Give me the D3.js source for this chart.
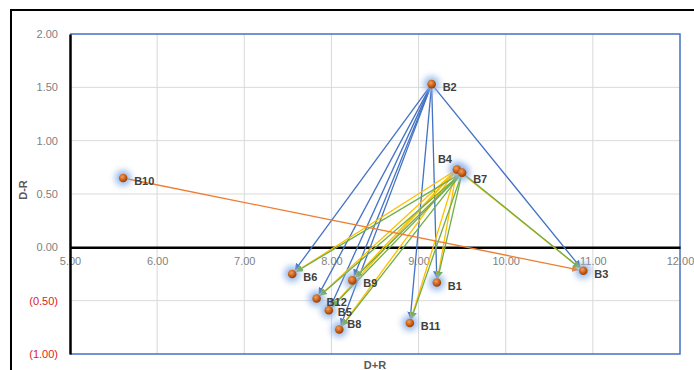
<!DOCTYPE html>
<html><head><meta charset="utf-8">
<script src="https://cdn.jsdelivr.net/npm/d3@7"></script>
<style>body{margin:0;background:#fff;} svg{display:block;}</style>
</head><body>
<svg id="c" width="694" height="370"></svg>
<script>
const names = ["B1","B2","B3","B4","B5","B6","B7","B8","B9","B10","B11","B12"];
const xVals = [9.21, 9.15, 10.89, 9.44, 7.97, 7.55, 9.50, 8.09, 8.24, 5.61, 8.90, 7.83];
const yVals = [-0.33, 1.53, -0.22, 0.73, -0.59, -0.25, 0.70, -0.77, -0.31, 0.65, -0.71, -0.48];
const xTicks = [5,6,7,8,9,10,11,12];
const yTicks = [-1,-0.5,0,0.5,1,1.5,2];
const sources = ["B2","B4","B7","B10"];
const sourceColors = ["#4472C4","#FFC000","#70AD47","#ED7D31"];
const targetsB2 = ["B6","B12","B5","B8","B9","B11","B1","B3"];
const targetsB4 = ["B6","B12","B5","B8","B9","B11","B1","B3"];
const targetsB7 = ["B6","B12","B5","B8","B9","B11","B1","B3"];
const targetsB10 = ["B3"];
const targetLists = [targetsB2, targetsB4, targetsB7, targetsB10];

const svg = d3.select("#c");
const x = d3.scaleLinear().domain([5,12]).range([70,680]);
const y = d3.scaleLinear().domain([-1,2]).range([354,34]);
const pts = {};
names.forEach((n,i)=>pts[n]={x:xVals[i],y:yVals[i]});
const FONT = "Liberation Sans, Arial, sans-serif";

// outer frame
svg.append("rect").attr("x",11).attr("y",10).attr("width",720).attr("height",400)
  .attr("fill","#fff").attr("stroke","#000").attr("stroke-width",2);

const defs = svg.append("defs");
const f = defs.append("filter").attr("id","glow").attr("x","-100%").attr("y","-100%").attr("width","300%").attr("height","300%");
f.append("feGaussianBlur").attr("stdDeviation",3);
const grad = defs.append("radialGradient").attr("id","dotg").attr("cx","40%").attr("cy","35%").attr("r","70%");
grad.append("stop").attr("offset","0%").attr("stop-color","#f0a060");
grad.append("stop").attr("offset","60%").attr("stop-color","#c55a11");
grad.append("stop").attr("offset","100%").attr("stop-color","#8a3a08");
sourceColors.forEach((c,i)=>{
  defs.append("marker").attr("id","ah"+i).attr("viewBox","0 0 10 10")
    .attr("refX",9).attr("refY",5).attr("markerWidth",7).attr("markerHeight",7)
    .attr("markerUnits","userSpaceOnUse").attr("orient","auto")
    .append("path").attr("d","M0,0 L10,5 L0,10 Z").attr("fill",c);
});

// gridlines
const g = svg.append("g");
g.selectAll(".vg").data(xTicks.filter(t=>t>5&&t<12)).join("line")
  .attr("x1",d=>x(d)).attr("x2",d=>x(d)).attr("y1",y(2)).attr("y2",y(-1))
  .attr("stroke","#d9d9d9").attr("stroke-width",1);
g.selectAll(".hg").data(yTicks.filter(t=>t!==0&&t>-1&&t<2)).join("line")
  .attr("x1",x(5)).attr("x2",x(12)).attr("y1",d=>y(d)).attr("y2",d=>y(d))
  .attr("stroke","#d9d9d9").attr("stroke-width",1);

// blue plot border (top,right,bottom)
svg.append("path").attr("d",`M${x(5)},${y(2)}H${x(12)}V${y(-1)}H${x(5)}`)
  .attr("fill","none").attr("stroke","#4472C4").attr("stroke-width",1.5);

// x axis at y=0
const xAxis = d3.axisBottom(x).tickValues(xTicks).tickSize(0).tickFormat(d3.format(".2f"));
const xa = svg.append("g").attr("transform",`translate(0,${y(0)})`).call(xAxis);
xa.select(".domain").attr("stroke","#000").attr("stroke-width",2.5);
xa.selectAll("text").attr("fill","#7f7f7f").attr("font-family",FONT)
  .attr("font-size",11).attr("dy","1.35em");

// y axis
const fmtY = d => d<0 ? "("+d3.format(".2f")(-d)+")" : d3.format(".2f")(d);
const yAxis = d3.axisLeft(y).tickValues(yTicks).tickSize(0).tickFormat(fmtY).tickPadding(12);
const ya = svg.append("g").attr("transform",`translate(${x(5)},0)`).call(yAxis);
ya.select(".domain").attr("stroke","#000").attr("stroke-width",2.5);
ya.selectAll("text").attr("fill",d=>d<0?"#e02020":"#7f7f7f")
  .attr("font-family",FONT).attr("font-size",11);

// arrows
const ag = svg.append("g");
sources.forEach((s,i)=>{
  targetLists[i].forEach(t=>{
    const x1=x(pts[s].x), y1=y(pts[s].y), x2=x(pts[t].x), y2=y(pts[t].y);
    const dx=x2-x1, dy=y2-y1, L=Math.hypot(dx,dy), sh=5;
    ag.append("line").attr("x1",x1).attr("y1",y1)
      .attr("x2",x2-dx/L*sh).attr("y2",y2-dy/L*sh)
      .attr("stroke",sourceColors[i]).attr("stroke-width",1.3)
      .attr("marker-end",`url(#ah${i})`);
  });
});

// points
const pg = svg.append("g");
names.forEach(n=>{
  pg.append("circle").attr("cx",x(pts[n].x)).attr("cy",y(pts[n].y)).attr("r",8)
    .attr("fill","#8fb4e8").attr("opacity",0.9).attr("filter","url(#glow)");
});
names.forEach(n=>{
  pg.append("circle").attr("cx",x(pts[n].x)).attr("cy",y(pts[n].y)).attr("r",4.3)
    .attr("fill","url(#dotg)");
});
// labels
const labelAdj = {B4:[-19,-10], B8:[8,-5], B12:[10,3], B5:[9,2], B7:[11,6]};
names.forEach(n=>{
  const a = labelAdj[n] || [11,3];
  pg.append("text").attr("x",x(pts[n].x)+a[0]).attr("y",y(pts[n].y)+a[1]+4)
    .attr("font-family",FONT).attr("font-weight","bold")
    .attr("font-size",11).attr("fill","#404040").text(n);
});

// axis titles
svg.append("text").attr("transform","translate(27,190) rotate(-90)").attr("text-anchor","middle")
  .attr("font-family",FONT).attr("font-weight","bold")
  .attr("font-size",11).attr("fill","#595959").text("D-R");
svg.append("text").attr("x",375).attr("y",369).attr("text-anchor","middle")
  .attr("font-family",FONT).attr("font-weight","bold")
  .attr("font-size",11).attr("fill","#595959").text("D+R");
</script>
</body></html>
